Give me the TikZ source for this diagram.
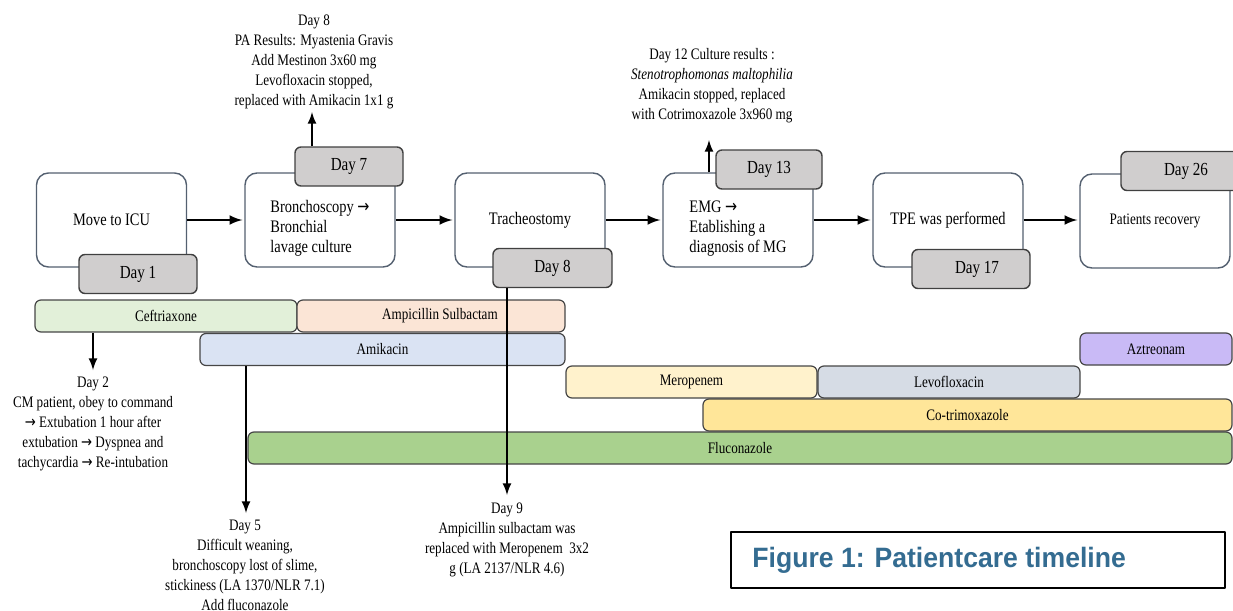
\documentclass[tikz,border=0pt]{standalone}
\usepackage{fontspec}
\setmainfont{Liberation Serif}[FakeStretch=0.82]
\newfontfamily\capfont{Liberation Sans}[FakeStretch=0.95]
\newfontfamily\arrfont{DejaVu Sans}[FakeStretch=0.82]
\newcommand\rarr{{\arrfont →}}
\definecolor{boxline}{RGB}{84,96,112}
\definecolor{tabline}{RGB}{64,64,64}
\definecolor{tabfill}{RGB}{208,206,206}
\definecolor{barline}{RGB}{70,70,70}
\definecolor{cefc}{RGB}{226,240,217}
\definecolor{ampc}{RGB}{251,229,214}
\definecolor{amic}{RGB}{218,227,243}
\definecolor{aztc}{RGB}{201,186,246}
\definecolor{merc}{RGB}{255,242,204}
\definecolor{levc}{RGB}{214,220,229}
\definecolor{cotc}{RGB}{255,230,153}
\definecolor{fluc}{RGB}{169,209,142}
\definecolor{capblue}{RGB}{52,108,145}
\begin{document}
\begin{tikzpicture}[x=0.5pt,y=-0.5pt,line join=round,>=latex]
	\tikzset{stage/.style={draw=boxline,line width=0.7pt,rounded corners=6pt,fill=white,minimum width=75pt,minimum height=47pt,font=\fontsize{8.8}{10}\selectfont},
		daytab/.style={draw=tabline,line width=0.7pt,rounded corners=3pt,fill=tabfill,minimum height=19.5pt,font=\fontsize{9.2}{10}\selectfont},
		drug/.style={draw=barline,line width=0.6pt,rounded corners=3pt,minimum height=16pt,inner sep=0pt,font=\fontsize{8}{10}\selectfont},
		note/.style={align=center,inner sep=1pt,font=\fontsize{8}{10}\selectfont},
		flow/.style={->,line width=1.2pt,shorten >=1pt}}
	\useasboundingbox (0,0) rectangle (1233,611);
	\clip (0,0) rectangle (1233,611);
	% stages
	\node[stage] (icu) at (111.5,220) {Move to ICU};
	\node[stage,align=left] (bronch) at (320,220) {\rule{0pt}{14pt}Bronchoscopy \rarr\\Bronchial\\lavage culture};
	\node[stage] (trach) at (530,220) {Tracheostomy};
	\node[stage,align=left] (emg) at (738,220) {\rule{0pt}{14pt}EMG \rarr\\Etablishing a\\diagnosis of MG};
	\node[stage] (tpe) at (948,220) {TPE was performed};
	\node[stage,font=\fontsize{8}{10}\selectfont] (recov) at (1155,221) {Patients recovery};
	\draw[flow] (icu) -- (bronch);
	\draw[flow] (bronch) -- (trach);
	\draw[flow] (trach) -- (emg);
	\draw[flow] (emg) -- (tpe);
	\draw[flow] (tpe.east) -- (recov.west |- tpe.east);
	% day tabs
	\node[daytab,minimum width=59pt] (day1) at (138,274) {Day 1};
	\node[daytab,minimum width=54pt] (day7) at (349,166.5) {Day 7};
	\node[daytab,minimum width=59.5pt] (day8) at (552.5,268) {Day 8};
	\node[daytab,minimum width=53pt] (day13) at (769,169.5) {Day 13};
	\node[daytab,minimum width=59pt] (day17) at (971,269) {\hspace{6pt}Day 17};
	\node[daytab,minimum width=65pt] (day26) at (1186,171) {Day 26};
	% drugs
	\node[drug,fill=cefc,minimum width=131pt] (cef) at (166,316) {Ceftriaxone};
	\node[drug,fill=ampc,minimum width=134pt] (amp) at (431,316) {\hspace{9pt}Ampicillin Sulbactam};
	\node[drug,fill=amic,minimum width=182.5pt] (amik) at (382.5,349.5) {Amikacin};
	\node[drug,fill=aztc,minimum width=76pt] (aztr) at (1156,349) {Aztreonam};
	\node[drug,fill=merc,minimum width=125.5pt] (mero) at (691.5,382) {Meropenem};
	\node[drug,fill=levc,minimum width=131pt] (levo) at (949,382) {Levofloxacin};
	\node[drug,fill=cotc,minimum width=264.5pt] (cotri) at (967.5,415) {Co-trimoxazole};
	\node[drug,fill=fluc,minimum width=492pt] (fluco) at (740,448) {Fluconazole\hspace{17pt}};
	% notes
	\node[note] (d8note) at (314,62) {Day 8\\PA Results: Myastenia Gravis\\Add Mestinon 3x60 mg\\Levofloxacin stopped,\\replaced with Amikacin 1x1 g};
	\node[note] (d12note) at (712,86) {Day 12 Culture results :\\\textit{Stenotrophomonas maltophilia}\\Amikacin stopped, replaced\\with Cotrimoxazole 3x960 mg};
	\node[note] (d2note) at (93,424) {Day 2\\CM patient, obey to command\\\rarr\ Extubation 1 hour after\\extubation \rarr\ Dyspnea and\\tachycardia \rarr\ Re-intubation};
	\node[note] (d5note) at (245,565) {Day 5\\Difficult weaning,\\bronchoscopy lost of slime,\\stickiness (LA 1370/NLR 7.1)\\Add fluconazole};
	\node[note] (d9note) at (507,540) {Day 9\\Ampicillin sulbactam was\\replaced with Meropenem~~3x2\\g (LA 2137/NLR 4.6)};
	\coordinate (d8tip) at (312,112);
	\coordinate (d12tip) at (709,140);
	\coordinate (d2tip) at (93,370);
	\coordinate (d5tip) at (246,513);
	\coordinate (d9tip) at (507,495);
	\draw[->,line width=1pt] (day7.north -| d8tip) -- (d8tip);
	\draw[->,line width=1pt] (emg.north -| d12tip) -- (d12tip);
	\draw[->,line width=1pt] (cef.south -| d2tip) -- (d2tip);
	\draw[->,line width=1pt] (amik.south -| d5tip) -- (d5tip);
	\draw[->,line width=1pt] (day8.south -| d9tip) -- (d9tip);
	% caption
	\node[draw=black,line width=0.8pt,minimum width=247pt,minimum height=28pt,inner sep=0pt] (capbox) at (978,560) {};
	\node[anchor=west,inner sep=0pt,text=capblue,font=\capfont\bfseries\fontsize{14}{16}\selectfont] (captxt) at (752,560) {Figure 1: Patientcare timeline};
\end{tikzpicture}
\end{document}
